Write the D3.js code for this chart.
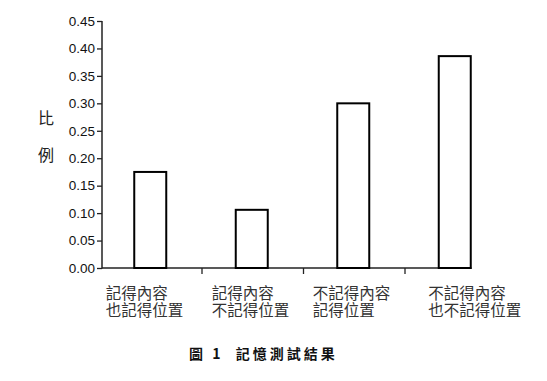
<!DOCTYPE html>
<html><head><meta charset="utf-8">
<script src="https://cdn.jsdelivr.net/npm/d3@7"></script>
<style>body{margin:0;background:#fff;}svg{display:block;}</style>
</head><body>
<svg id="c" width="547" height="381"></svg>
<script>
const categories = ["a","b","c","d"];
const labelLines = [
  ["記得內容","也記得位置"],
  ["記得內容","不記得位置"],
  ["不記得內容","記得位置"],
  ["不記得內容","也不記得位置"]
];
const values = [0.175, 0.106, 0.30, 0.386];
const yTicks = [0,0.05,0.10,0.15,0.20,0.25,0.30,0.35,0.40,0.45];
const yTitle = ["比","例"];
const caption = "圖 1  記憶測試結果";

const svg = d3.select("#c");
const axisX0 = 102, axisX1 = 471.5;
const y = d3.scaleLinear().domain([0,0.45]).range([268,21]);
const x = d3.scaleBand().domain(categories).range([99,505]).padding(0);
const cjk = "'Noto Sans CJK TC','Noto Sans CJK SC',sans-serif";

// y axis
const yAxis = d3.axisLeft(y).tickValues(yTicks).tickFormat(d3.format(".2f")).tickSize(5).tickPadding(2);
const ga = svg.append("g").attr("transform",`translate(${axisX0},0)`).call(yAxis);
ga.select(".domain").remove();
ga.selectAll(".tick line").attr("stroke","#222").attr("stroke-width",1.3);
ga.selectAll(".tick text").attr("fill","#111").style("font-family","'Liberation Sans',Arial,sans-serif").style("font-size","13.5px");
svg.append("line").attr("x1",axisX0).attr("x2",axisX0).attr("y1",y(0.45)).attr("y2",y(0)+0.6)
  .attr("stroke","#222").attr("stroke-width",1.5);

// x axis
svg.append("line").attr("x1",axisX0).attr("x2",axisX1).attr("y1",y(0)).attr("y2",y(0))
  .attr("stroke","#222").attr("stroke-width",1.5);
svg.selectAll(".xt").data(categories.slice(1)).enter().append("line")
  .attr("x1",d=>x(d)+1.5).attr("x2",d=>x(d)+1.5).attr("y1",y(0)).attr("y2",y(0)+6)
  .attr("stroke","#222").attr("stroke-width",1.3);

// bars
const bw = 32;
svg.selectAll(".bar").data(values).enter().append("rect")
  .attr("x",(d,i)=>x(categories[i])+x.bandwidth()/2-bw/2+0.5)
  .attr("y",d=>y(d))
  .attr("width",bw)
  .attr("height",d=>y(0)-y(d))
  .attr("fill","#fff").attr("stroke","#000").attr("stroke-width",2);

// x labels (one text per line)
const labelDx = [-44,-39.5,-40,-26];
categories.forEach((c,i)=>{
  labelLines[i].forEach((ln,j)=>{
    svg.append("text").attr("x",x(c)+x.bandwidth()/2+labelDx[i]).attr("y",299+j*17)
      .style("font-family","'Liberation Sans',"+cjk).style("font-size","15.5px").attr("fill","#333").text(ln);
  });
});

// y title
yTitle.forEach((ch,i)=>{
  svg.append("text").attr("x",46).attr("y",124+i*37).attr("text-anchor","middle")
    .style("font-family",cjk).style("font-size","16px").attr("fill","#222").text(ch);
});

// caption
svg.append("text").attr("x",189).attr("y",359).style("font-family",cjk).style("font-size","14px")
  .style("font-weight","600").style("letter-spacing","3px").attr("fill","#111")
  .style("white-space","pre").text(caption);
</script>
</body></html>
